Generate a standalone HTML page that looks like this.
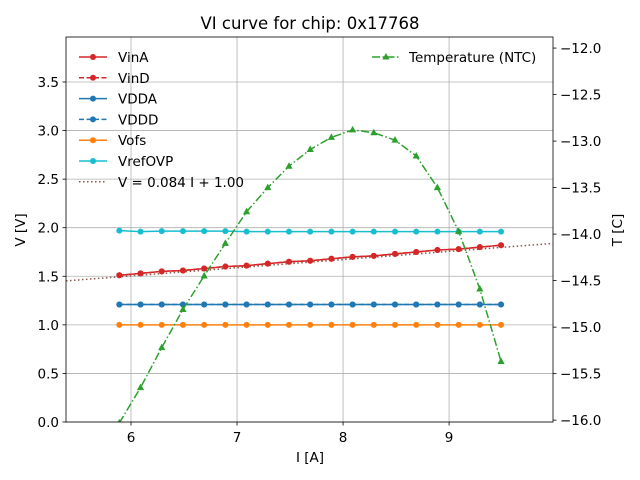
<!DOCTYPE html>
<html><head><meta charset="utf-8"><style>
body{margin:0;background:#fff;}
svg{display:block;font-family:"DejaVu Sans","Liberation Sans",sans-serif;}
</style></head><body>
<svg id="chart" width="640" height="480"></svg>
<script>
const currents=[5.89,6.09,6.29,6.49,6.69,6.89,7.09,7.29,7.49,7.69,7.89,8.09,8.29,8.49,8.69,8.89,9.09,9.29,9.49];
const vinA=[1.51,1.53,1.55,1.56,1.58,1.60,1.61,1.63,1.65,1.66,1.68,1.70,1.71,1.73,1.75,1.77,1.78,1.80,1.82];
const vinD=[1.51,1.53,1.55,1.56,1.58,1.60,1.61,1.63,1.65,1.66,1.68,1.70,1.71,1.73,1.75,1.77,1.78,1.80,1.82];
const vdda=[1.21,1.21,1.21,1.21,1.21,1.21,1.21,1.21,1.21,1.21,1.21,1.21,1.21,1.21,1.21,1.21,1.21,1.21,1.21];
const vddd=[1.21,1.21,1.21,1.21,1.21,1.21,1.21,1.21,1.21,1.21,1.21,1.21,1.21,1.21,1.21,1.21,1.21,1.21,1.21];
const vofs=[1.00,1.00,1.00,1.00,1.00,1.00,1.00,1.00,1.00,1.00,1.00,1.00,1.00,1.00,1.00,1.00,1.00,1.00,1.00];
const vrefovp=[1.97,1.96,1.965,1.965,1.965,1.965,1.96,1.96,1.96,1.96,1.96,1.96,1.96,1.96,1.96,1.96,1.96,1.96,1.96];
const temperature=[-16.03,-15.65,-15.22,-14.81,-14.45,-14.10,-13.76,-13.50,-13.27,-13.09,-12.96,-12.88,-12.91,-12.99,-13.16,-13.50,-13.97,-14.59,-15.37];
const fitSlope=0.084, fitIntercept=1.00;
const xTicks=[6,7,8,9];
const yTicks=[0,0.5,1.0,1.5,2.0,2.5,3.0,3.5];
const tTicks=[-12.0,-12.5,-13.0,-13.5,-14.0,-14.5,-15.0,-15.5,-16.0];

const L=66,R=553,T=37,B=422;
const xMin=5.387,xMax=9.98,yMin=0,yMax=3.963,tMin=-16.02,tMax=-11.881;
const X=v=>L+(v-xMin)/(xMax-xMin)*(R-L);
const Y=v=>B-(v-yMin)/(yMax-yMin)*(B-T);
const YT=v=>B-(v-tMin)/(tMax-tMin)*(B-T);
const svg=document.getElementById('chart');
const NS='http://www.w3.org/2000/svg';
function mk(tag,attrs,parent){const e=document.createElementNS(NS,tag);for(const k in attrs)e.setAttribute(k,attrs[k]);(parent||svg).appendChild(e);return e;}

const defs=mk('defs',{});
const cp=mk('clipPath',{id:'clip'},defs);mk('rect',{x:L,y:T,width:R-L,height:B-T},cp);

xTicks.forEach(t=>{const g=mk('line',{x1:X(t),x2:X(t),y1:T,y2:B,stroke:'#b0b0b0','stroke-width':0.8});

});
yTicks.forEach(t=>{const g=mk('line',{x1:L,x2:R,y1:Y(t),y2:Y(t),stroke:'#b0b0b0','stroke-width':0.8});

});

const plot=mk('g',{'clip-path':'url(#clip)'});



const fit=mk('line',{x1:L,x2:R,y1:Y(fitSlope*xMin+fitIntercept),y2:Y(fitSlope*xMax+fitIntercept),stroke:'#8c564b','stroke-width':1.5,'stroke-dasharray':'1.5,2.5'},plot);



function series(vals,color,dash,name,yfn,marker){
  const g=mk('g',{},plot);
  
  
  const pts=currents.map((c,i)=>X(c)+','+yfn(vals[i])).join(' ');
  mk('polyline',{points:pts,fill:'none',stroke:color,'stroke-width':1.5,'stroke-dasharray':dash||''},g);
  currents.forEach((c,i)=>{
    let m;
    if(marker==='tri'){const x=X(c),y=yfn(vals[i]);m=mk('polygon',{points:`${x},${y-4} ${x-3.6},${y+2.5} ${x+3.6},${y+2.5}`,fill:color},g);}
    else m=mk('circle',{cx:X(c),cy:yfn(vals[i]),r:3,fill:color},g);
    
    
  });
}
series(vofs,'#ff7f0e','','vofs-series',Y);
series(vrefovp,'#17becf','','vrefovp-series',Y);
series(vdda,'#1f77b4','','vdda-series',Y);
series(vddd,'#1f77b4','5,2.5','vddd-series',Y);
series(vinA,'#d62728','','vina-series',Y);
series(vinD,'#d62728','5,2.5','vind-series',Y);
series(temperature,'#2ca02c','8,2.5,1.5,2.5','temperature-series',YT,'tri');

const fr=mk('rect',{x:L,y:T,width:R-L,height:B-T,fill:'none',stroke:'#000','stroke-width':0.8});



function txt(x,y,s,anchor,size,name,rot){const t=mk('text',{x:x,y:y,'text-anchor':anchor,'font-size':size,fill:'#000'});t.textContent=s;if(rot)t.setAttribute('transform',`rotate(-90 ${x} ${y})`);

return t;}

xTicks.forEach(t=>{mk('line',{x1:X(t),x2:X(t),y1:B,y2:B+3.5,stroke:'#000','stroke-width':0.8});txt(X(t),B+20,String(t),'middle',13.5,'x-tick-label');});
yTicks.forEach(t=>{mk('line',{x1:L,x2:L-3.5,y1:Y(t),y2:Y(t),stroke:'#000','stroke-width':0.8});txt(L-7,Y(t)+5,t.toFixed(1),'end',13.5,'y-tick-label');});
tTicks.forEach(t=>{mk('line',{x1:R,x2:R+3.5,y1:YT(t),y2:YT(t),stroke:'#000','stroke-width':0.8});txt(R+7,YT(t)+5,'\u2212'+Math.abs(t).toFixed(1),'start',13.5,'t-tick-label');});

txt(310,29,'VI curve for chip: 0x17768','middle',16.5,'chart-title');
txt(310,462,'I [A]','middle',13.5,'x-axis-title');
txt(25,230,'V [V]','middle',13.5,'y-axis-title',true);
txt(622,230,'T [C]','middle',13.5,'t-axis-title',true);

const leg=[['VinA','#d62728','','c'],['VinD','#d62728','5,2.5','c'],['VDDA','#1f77b4','','c'],['VDDD','#1f77b4','5,2.5','c'],['Vofs','#ff7f0e','','c'],['VrefOVP','#17becf','','c'],['V = 0.084 I + 1.00','#8c564b','1.5,2.5','n']];
leg.forEach((e,i)=>{const y=57+i*20.8;const g=mk('g',{});


mk('line',{x1:79,x2:107,y1:y,y2:y,stroke:e[1],'stroke-width':1.5,'stroke-dasharray':e[2]},g);
if(e[3]==='c')mk('circle',{cx:93,cy:y,r:3,fill:e[1]},g);
const t=mk('text',{x:118,y:y+5,'font-size':13.5,fill:'#000'},g);t.textContent=e[0];});
const tg=mk('g',{});


mk('line',{x1:372,x2:400,y1:57,y2:57,stroke:'#2ca02c','stroke-width':1.5,'stroke-dasharray':'8,2.5,1.5,2.5'},tg);
mk('polygon',{points:'386,53 382.4,59.5 389.6,59.5',fill:'#2ca02c'},tg);
const tt=mk('text',{x:409,y:62,'font-size':13.5,fill:'#000'},tg);tt.textContent='Temperature (NTC)';
</script>
</body></html>
